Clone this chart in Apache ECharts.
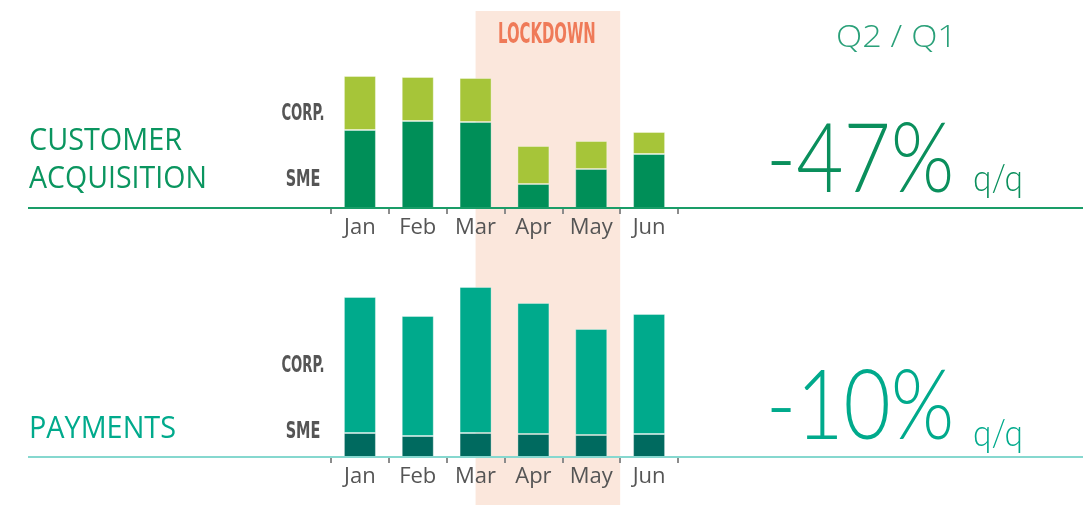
<!DOCTYPE html>
<html>
<head>
<meta charset="utf-8">
<script src="https://cdn.jsdelivr.net/npm/echarts@6/dist/echarts.min.js"></script>
<style>html,body{margin:0;padding:0;background:#fff}#c{width:1083px;height:505px}</style>
</head>
<body>
<div id="c"></div>
<script>
const months = ['Jan', 'Feb', 'Mar', 'Apr', 'May', 'Jun'];
const acqSME = [78, 87, 86, 24, 39, 54];
const acqCorp = [54, 44, 44, 38, 28, 22];
const paySME = [24, 21, 24, 23, 22, 23];
const payCorp = [136, 120, 146, 131, 106, 120];
const lockdownFrom = 'Mar';
const lockdownTo = 'May';
const acqChange = '-47%';
const payChange = '-10%';

const chart = echarts.init(document.getElementById('c'), null, {renderer: 'canvas'});
const labelFont = '"Open Sans","Noto Sans",sans-serif';
function xAx(idx) {
  return {
    type: 'category', gridIndex: idx, data: months,
    axisLine: {show: false},
    axisTick: {show: true, length: 6, lineStyle: {color: '#8c8c8c', width: 2}},
    axisLabel: {color: '#555', fontSize: 22, fontFamily: labelFont, margin: 9}
  };
}
function yAx(idx, max) {
  return {type: 'value', gridIndex: idx, min: 0, max: max, show: false, splitLine: {show: false}};
}
const option = {
  animation: false,
  grid: [
    {left: 331, right: 405, top: 60, bottom: 297},
    {left: 331, right: 405, top: 280, bottom: 48}
  ],
  xAxis: [xAx(0), xAx(1)],
  yAxis: [yAx(0, 148), yAx(1, 177)],
  series: [
    {type: 'bar', name: 'SME', stack: 'a', xAxisIndex: 0, yAxisIndex: 0, data: acqSME, barWidth: 32,
     itemStyle: {color: '#008f58', borderColor: 'rgba(255,255,255,0.35)', borderWidth: 1}, z: 3},
    {type: 'bar', name: 'CORP.', stack: 'a', xAxisIndex: 0, yAxisIndex: 0, data: acqCorp, barWidth: 32,
     itemStyle: {color: '#a6c539', borderColor: 'rgba(255,255,255,0.35)', borderWidth: 1}, z: 3},
    {type: 'bar', name: 'SME', stack: 'b', xAxisIndex: 1, yAxisIndex: 1, data: paySME, barWidth: 32,
     itemStyle: {color: '#006a5f', borderColor: 'rgba(255,255,255,0.35)', borderWidth: 1}, z: 3},
    {type: 'bar', name: 'CORP.', stack: 'b', xAxisIndex: 1, yAxisIndex: 1, data: payCorp, barWidth: 32,
     itemStyle: {color: '#00aa8c', borderColor: 'rgba(255,255,255,0.35)', borderWidth: 1}, z: 3}
  ]
};
chart.setOption(option);

const half = (chart.convertToPixel({xAxisIndex: 0}, 'Feb') - chart.convertToPixel({xAxisIndex: 0}, 'Jan')) / 2;
const bandL = chart.convertToPixel({xAxisIndex: 0}, lockdownFrom);
const bandR = chart.convertToPixel({xAxisIndex: 0}, lockdownTo) + half;
const base0 = chart.convertToPixel({yAxisIndex: 0}, 0);
const base1 = chart.convertToPixel({yAxisIndex: 1}, 0);
const narrow = '"Liberation Sans Narrow","DejaVu Sans Condensed",sans-serif';
const thin = 'Lato,"Open Sans",sans-serif';
function cond(text, x, y, size, color, sx) {
  return {type: 'text', x: x, y: y, scaleX: sx, z: 10,
    style: {text: text, fontFamily: narrow, fontWeight: 'bold', fontSize: size, fill: color, align: 'center', verticalAlign: 'middle'}};
}
function txt(text, x, y, size, color, weight, sx, family) {
  return {type: 'text', x: x, y: y, scaleX: sx || 1, z: 10,
    style: {text: text, fontFamily: family || thin, fontWeight: weight || 'normal', fontSize: size, fill: color, align: 'left', verticalAlign: 'middle'}};
}
chart.setOption({
  graphic: [
    {type: 'rect', z: -10, shape: {x: bandL, y: 11, width: bandR - bandL, height: 494}, style: {fill: '#fbe7dc'}},
    cond('LOCKDOWN', (bandL + bandR) / 2 - 1, 36, 28, '#ef7a58', 0.59),
    {type: 'line', z: 5, shape: {x1: 28, y1: base0, x2: 1083, y2: base0}, style: {stroke: '#1a9d68', lineWidth: 2}},
    {type: 'line', z: 5, shape: {x1: 28, y1: base1, x2: 1083, y2: base1}, style: {stroke: '#86d8cf', lineWidth: 2}},
    cond('CORP.', 303, 114, 23, '#555', 0.64),
    cond('SME', 303, 180, 23, '#555', 0.7),
    cond('CORP.', 303, 366, 23, '#555', 0.64),
    cond('SME', 303, 432, 23, '#555', 0.7),
    txt('CUSTOMER', 29, 141, 31, '#0a955f', 'normal', 0.93, labelFont),
    txt('ACQUISITION', 29, 179, 31, '#0a955f', 'normal', 0.92, labelFont),
    txt('PAYMENTS', 29, 429, 31, '#00aa8c', 'normal', 0.93, labelFont),
    txt('Q2 / Q1', 836, 38, 32, '#2aa079', '300', 1.07, labelFont),
    txt(acqChange, 766, 161, 96, '#0a8f5c', '300', 0.85),
    txt('q/q', 973, 179, 38, '#0a8f5c', '300', 0.88),
    txt(payChange, 766, 408, 96, '#00aa8c', '300', 0.85),
    txt('q/q', 973, 434, 38, '#00aa8c', '300', 0.88)
  ]
});
</script>
</body>
</html>
